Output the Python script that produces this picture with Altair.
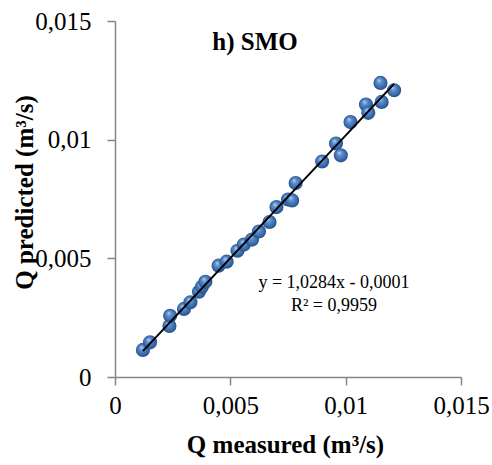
import altair as alt
import pandas as pd

# Measured vs predicted discharge (m3/s)
q_measured = [0.00121, 0.00152, 0.00236, 0.00239, 0.00299, 0.00327, 0.00364, 0.00377,
              0.00392, 0.00449, 0.00484, 0.00531, 0.00559, 0.00594, 0.00624, 0.00670,
              0.00700, 0.00750, 0.00768, 0.00783, 0.00898, 0.00958, 0.00979, 0.01021,
              0.01088, 0.01098, 0.01156, 0.01151, 0.01210]
q_predicted = [0.00114, 0.00146, 0.00215, 0.00258, 0.00287, 0.00315, 0.00359, 0.00380,
               0.00401, 0.00469, 0.00486, 0.00532, 0.00558, 0.00579, 0.00613, 0.00653,
               0.00716, 0.00748, 0.00744, 0.00817, 0.00908, 0.00984, 0.00934, 0.01074,
               0.01148, 0.01113, 0.01159, 0.01239, 0.01208]
tick_values = [0, 0.005, 0.01, 0.015]
panel_title = "h) SMO"
equation_line = "y = 1,0284x - 0,0001"
r2_line = "R² = 0,9959"

df = pd.DataFrame({"x": q_measured, "y": q_predicted})

FONT = "Liberation Serif"
label_expr = "replace(format(datum.value, ''), '.', ',')"

xscale = alt.Scale(domain=[0, 0.015], nice=False, zero=False)
yscale = alt.Scale(domain=[0, 0.015], nice=False, zero=False)

xaxis = alt.Axis(values=tick_values, labelExpr=label_expr, grid=False,
                 domainColor="#868686", tickColor="#868686", tickSize=8,
                 domainWidth=1.5, tickWidth=1.5,
                 labelFont=FONT, labelFontSize=25, labelColor="black", labelPadding=8,
                 labelFlush=False, labelOverlap=False,
                 title="Q measured (m³/s)", titleFont=FONT, titleFontSize=25,
                 titleFontWeight="bold", titleColor="black",
                 titleX=170, titleY=67, titleBaseline="middle", titleAlign="center")
yaxis = alt.Axis(values=tick_values, labelExpr=label_expr, grid=False,
                 domainColor="#868686", tickColor="#868686", tickSize=8,
                 domainWidth=1.5, tickWidth=1.5,
                 labelFont=FONT, labelFontSize=25, labelColor="black", labelPadding=16,
                 labelFlush=False, labelOverlap=False,
                 title="Q predicted (m³/s)", titleFont=FONT, titleFontSize=25,
                 titleFontWeight="bold", titleColor="black",
                 titleX=-91, titleY=171, titleAngle=270,
                 titleBaseline="middle", titleAlign="center")

ball = alt.Gradient(
    gradient="radial",
    x1=0.38, y1=0.3, r1=0.0,
    x2=0.5, y2=0.5, r2=0.55,
    stops=[
        alt.GradientStop(color="#bcd5f3", offset=0.0),
        alt.GradientStop(color="#5f90d0", offset=0.3),
        alt.GradientStop(color="#3a6aaa", offset=0.7),
        alt.GradientStop(color="#214676", offset=1.0),
    ],
)

base = alt.Chart(df)

points = base.mark_circle(size=200, opacity=1, fill=ball).encode(
    x=alt.X("x:Q", scale=xscale, axis=xaxis),
    y=alt.Y("y:Q", scale=yscale, axis=yaxis),
)

trend = base.transform_regression("x", "y", method="linear").mark_line(
    color="black", strokeWidth=2
).encode(
    x=alt.X("x:Q", scale=xscale),
    y=alt.Y("y:Q", scale=yscale),
)


def label(text, size, weight, px, py):
    return alt.Chart(pd.DataFrame({"t": [text]})).mark_text(
        font=FONT, fontSize=size, fontWeight=weight, color="black",
        align="center", baseline="middle"
    ).encode(text="t:N", x=alt.value(px), y=alt.value(py))


title_txt = label(panel_title, 25, "bold", 140, 21)
eq_txt = label(equation_line, 18, "normal", 219, 262)
r2_txt = label(r2_line, 18, "normal", 219, 285)

chart = alt.layer(points, trend, title_txt, eq_txt, r2_txt).properties(
    width=346, height=356,
    autosize=alt.AutoSizeParams(type="none"),
    padding={"left": 115, "top": 21, "right": 31, "bottom": 88},
    background="white",
).configure_view(stroke=None)

chart.save("out.html", embed_options={"renderer": "svg", "actions": False})
